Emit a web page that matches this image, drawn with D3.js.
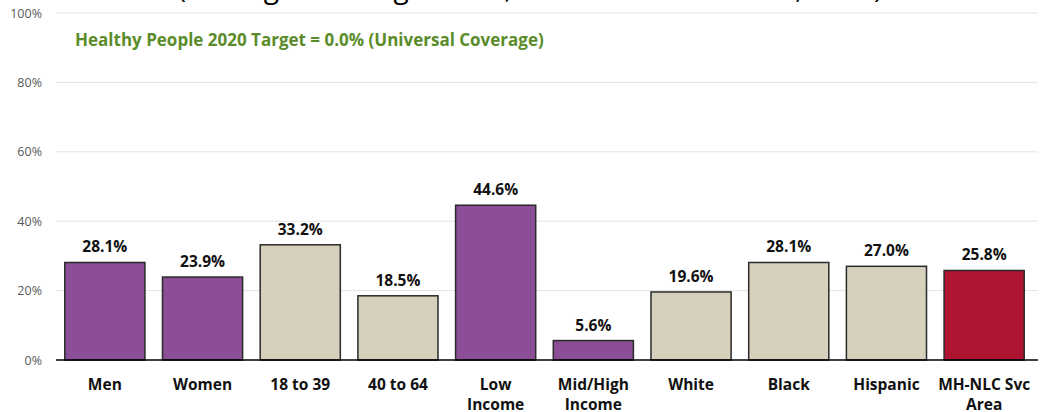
<!DOCTYPE html>
<html><head><meta charset="utf-8">
<script src="https://cdn.jsdelivr.net/npm/d3@7"></script>
<style>
body{margin:0;background:#fff;}
svg{display:block;font-family:"Open Sans","Noto Sans",sans-serif;}
</style></head>
<body><svg id="c" width="1047" height="412"></svg>
<script>
const categories = [["Men"],["Women"],["18 to 39"],["40 to 64"],["Low","Income"],["Mid/High","Income"],["White"],["Black"],["Hispanic"],["MH-NLC Svc","Area"]];
const values = [28.1,23.9,33.2,18.5,44.6,5.6,19.6,28.1,27.0,25.8];
const groups = ["sex","sex","age","age","income","income","race","race","race","total"];
const tickValues = [0,20,40,60,80,100];
const subtitle = "(Among Adults Age 18-64; MH-NLC Service Area, 2018)";
const targetNote = "Healthy People 2020 Target = 0.0% (Universal Coverage)";

const colorMap = {sex:"#8C4E97",age:"#D6D1BD",income:"#8C4E97",race:"#D6D1BD",total:"#B01433"};

const svg = d3.select("#c");
const x = d3.scaleBand().domain(d3.range(categories.length)).range([56,1033]).paddingInner(0.18).paddingOuter(0.09);
const y = d3.scaleLinear().domain([0,100]).range([360,13]);

// subtitle clipped at top
svg.append("text").attr("x",530).attr("y",-2).attr("text-anchor","middle")
  .attr("font-size",28).attr("fill","#000").text(subtitle);

// grid
svg.append("g").selectAll("line").data(tickValues.filter(d=>d>0)).join("line")
  .attr("x1",56).attr("x2",1038).attr("y1",d=>y(d)).attr("y2",d=>y(d))
  .attr("stroke","#e3e3e3").attr("stroke-width",1);

// y axis
const ya = svg.append("g").attr("transform","translate(56,0)")
  .call(d3.axisLeft(y).tickValues(tickValues).tickFormat(d=>d+"%").tickSize(0).tickPadding(14));
ya.select(".domain").remove();
ya.selectAll("text").attr("font-size",12.5).attr("fill","#595959").attr("font-family","'Open Sans',sans-serif");

// bars
svg.append("g").selectAll("rect").data(values).join("rect")
  .attr("x",(d,i)=>x(i)).attr("width",x.bandwidth())
  .attr("y",d=>y(d)).attr("height",d=>y(0)-y(d))
  .attr("fill",(d,i)=>colorMap[groups[i]])
  .attr("stroke","#2a2a2a").attr("stroke-width",1.5);

// baseline
svg.append("line").attr("x1",56).attr("x2",1038).attr("y1",y(0)).attr("y2",y(0))
  .attr("stroke","#000").attr("stroke-width",1.5);

// value labels
svg.append("g").selectAll("text").data(values).join("text")
  .attr("x",(d,i)=>x(i)+x.bandwidth()/2).attr("y",d=>y(d)-10)
  .attr("text-anchor","middle").attr("font-size",15.5).attr("font-weight","bold").attr("fill","#111")
  .text(d=>d.toFixed(1)+"%");

// category labels
const cl = svg.append("g").selectAll("text").data(categories).join("text")
  .attr("x",(d,i)=>x(i)+x.bandwidth()/2).attr("y",390)
  .attr("text-anchor","middle").attr("font-size",15.5).attr("font-weight","bold").attr("fill","#111");
cl.selectAll("tspan").data(d=>d).join("tspan")
  .attr("x",function(){return d3.select(this.parentNode).attr("x");})
  .attr("dy",(d,i)=>i===0?0:20).text(d=>d);

// target note
svg.append("text").attr("x",75).attr("y",46).attr("font-size",17).attr("font-weight","bold")
  .attr("fill","#5B8C2A").text(targetNote);
</script></body></html>
